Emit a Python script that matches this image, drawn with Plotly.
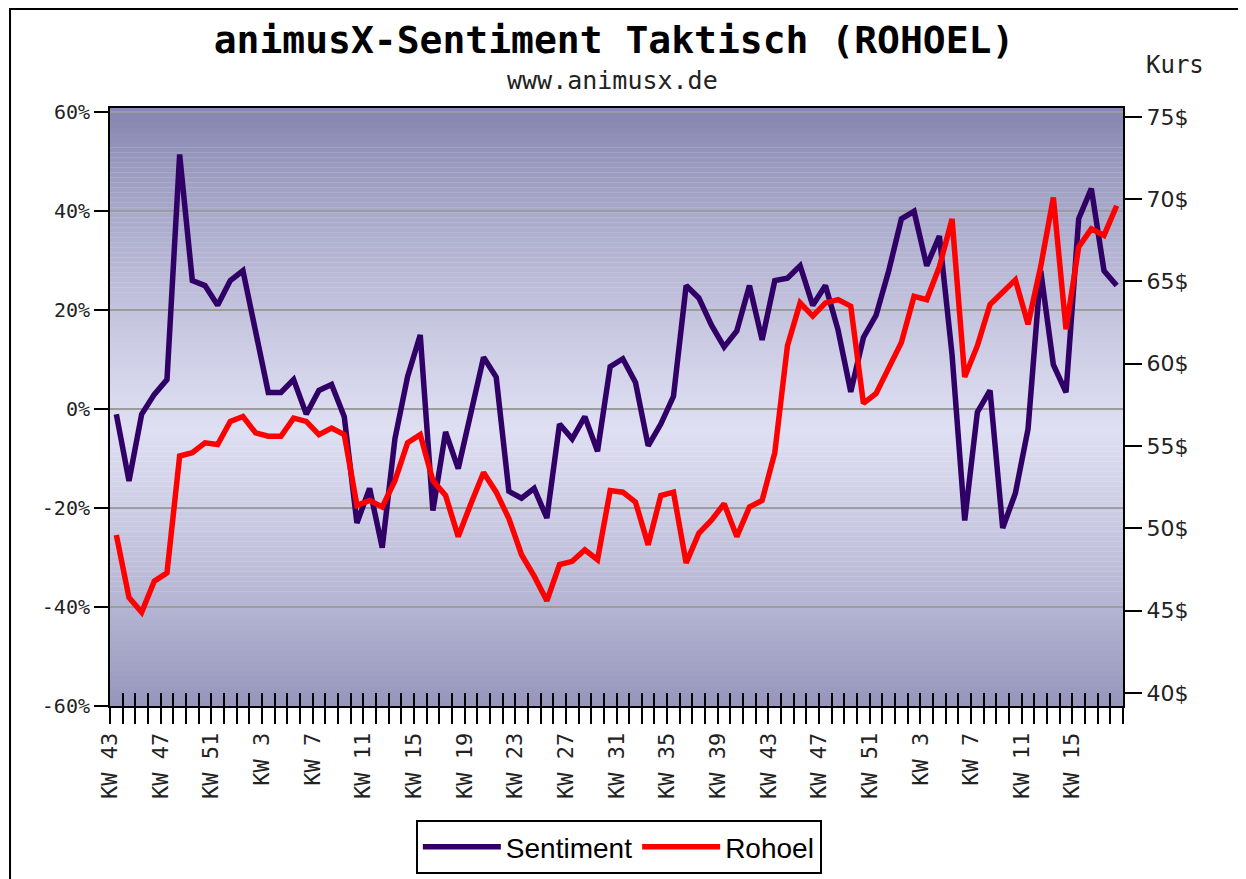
import numpy as np
import plotly.graph_objects as go

# ---------------- data ----------------
kw = list(range(43, 53)) + list(range(1, 53)) + list(range(1, 19))  # 80 weeks

tick_labels = ["KW 43", "KW 47", "KW 51", "KW 3", "KW 7", "KW 11", "KW 15", "KW 19",
               "KW 23", "KW 27", "KW 31", "KW 35", "KW 39", "KW 43", "KW 47", "KW 51",
               "KW 3", "KW 7", "KW 11", "KW 15"]

sentiment = [-1, -14.5, -1, 3, 6, 51.5, 26, 25, 21, 26,
             28, 15, 3.4, 3.4, 6, -1, 3.8, 5, -1.5, -23,
             -16, -28, -6, 6.6, 15, -20.5, -4.6, -12, -1, 10.5,
             6.5, -16.6, -18, -16, -22, -3, -6, -1.5, -8.5, 8.6,
             10.2, 5.4, -7.4, -3, 2.6, 25, 22.5, 17, 12.6, 15.8,
             25, 14, 26, 26.5, 29, 21, 25, 16, 3.5, 14.5,
             19, 28, 38.5, 40, 29, 35, 11, -22.5, -0.6, 3.8,
             -24, -17, -4, 28, 9, 3.4, 38.5, 44.6, 28, 25]

rohoel = [49.6, 45.8, 44.9, 46.8, 47.3, 54.4, 54.6, 55.2, 55.1, 56.5,
          56.8, 55.8, 55.6, 55.6, 56.7, 56.5, 55.7, 56.1, 55.7, 51.4,
          51.7, 51.3, 52.9, 55.2, 55.7, 52.9, 52.0, 49.5, 51.5, 53.4,
          52.2, 50.6, 48.4, 47.1, 45.6, 47.8, 48.0, 48.7, 48.1, 52.3,
          52.2, 51.6, 49.0, 52.0, 52.2, 47.9, 49.7, 50.5, 51.5, 49.5,
          51.3, 51.7, 54.6, 61.1, 63.7, 62.9, 63.7, 63.9, 63.5, 57.6,
          58.2, 59.7, 61.3, 64.1, 63.9, 65.9, 68.8, 59.2, 61.1, 63.6,
          64.3, 65.1, 62.4, 65.9, 70.1, 62.1, 67.1, 68.2, 67.8, 69.6]

pct_ticks = [-60, -40, -20, 0, 20, 40, 60]
pct_labels = ["-60%", "-40%", "-20%", "0%", "20%", "40%", "60%"]
kurs_ticks = [40, 45, 50, 55, 60, 65, 70, 75]
kurs_labels = ["40$", "45$", "50$", "55$", "60$", "65$", "70$", "75$"]

# ---------------- layout geometry ----------------
W, H = 1246, 879
OFF = 8  # page body margin in the browser
PL, PR, PT, PB = 110, 1123.3, 108, 706  # target plot box in page pixels
L = PL - OFF
T = PT - OFF
R = W - (PR - OFF)
B = H - (PB - OFF)
n = len(kw)
xpos = np.arange(n) + 0.5
all_ticks = list(range(n + 1))
tick_text = []
for k in all_ticks:
    tick_text.append(tick_labels[k // 4] if (k % 4 == 0 and k // 4 < len(tick_labels)) else "")

pw = PR - PL
ph = PB - PT


def px2paper_x(px):
    return (px - PL) / pw


def px2paper_y(py):
    return (PB - py) / ph


YL = [-60, 60.9]
YR = [39.21, 75.54]

fig = go.Figure()

fig.add_trace(go.Scatter(
    x=xpos, y=sentiment, name="Sentiment", mode="lines",
    line=dict(color="#300066", width=5.5),
    customdata=kw, hovertemplate="KW %{customdata}: %{y}%<extra></extra>",
    xaxis="x", yaxis="y"))

fig.add_trace(go.Scatter(
    x=xpos, y=rohoel, name="Rohoel", mode="lines",
    line=dict(color="#FF0000", width=5.5),
    customdata=kw, hovertemplate="KW %{customdata}: %{y}$<extra></extra>",
    xaxis="x2", yaxis="y2"))

# gradient background (bands below the grid)
shapes = []
nb = 120
edges = np.linspace(YL[0], YL[1], nb + 1)
dark = np.array([136, 136, 178])
light = np.array([224, 224, 243])
for i in range(nb):
    mid = 0.5 * (edges[i] + edges[i + 1])
    d = abs(mid - (-4)) / 62.0
    f = max(0.0, 1 - d) ** 0.8
    c = dark + (light - dark) * f
    shapes.append(dict(type="rect", xref="paper", yref="y", x0=0, x1=1,
                       y0=edges[i], y1=edges[i + 1] + 0.05, layer="below",
                       line=dict(width=0),
                       fillcolor="rgb(%d,%d,%d)" % tuple(c.astype(int))))

# outer frame of the whole chart
shapes.append(dict(type="rect", xref="paper", yref="paper",
                   x0=px2paper_x(10), x1=px2paper_x(1400),
                   y0=px2paper_y(1000), y1=px2paper_y(9),
                   line=dict(color="black", width=2), layer="above"))

mono = "DejaVu Sans Mono"

fig.update_layout(
    width=W, height=H,
    margin=dict(l=L, r=R, t=T, b=B, pad=0, autoexpand=False),
    paper_bgcolor="white",
    plot_bgcolor="rgba(0,0,0,0)",
    shapes=shapes,
    title=dict(text="animusX-Sentiment Taktisch (ROHOEL)",
               font=dict(family=mono, size=38, color="black", weight="bold"),
               x=(614 - OFF) / W, xanchor="center", y=1 - (40 - OFF) / H, yanchor="middle"),
    xaxis=dict(range=[0, n], tickmode="array", tickvals=all_ticks, ticktext=tick_text,
               ticks="outside", ticklen=16, tickwidth=2, tickcolor="black",
               tickangle=-90, ticklabelstandoff=0,
               tickfont=dict(family=mono, size=22, color="#222"),
               showgrid=False, zeroline=False,
               showline=True, linecolor="black", linewidth=2, mirror=True),
    xaxis2=dict(range=[0, n], overlaying="x", anchor="y", side="bottom",
                tickmode="array", tickvals=all_ticks, ticks="inside", ticklen=13,
                tickwidth=2, tickcolor="black", showticklabels=False,
                showgrid=False, zeroline=False, showline=False),
    yaxis=dict(range=YL, tickmode="array", tickvals=pct_ticks, ticktext=pct_labels,
               ticks="outside", ticklen=14, tickwidth=2, tickcolor="black",
               tickfont=dict(family=mono, size=20, color="#222"),
               showgrid=True, gridcolor="#9c9c9c", gridwidth=2,
               zeroline=False, showline=True, linecolor="black", linewidth=2),
    yaxis2=dict(range=YR, overlaying="y", anchor="x2", side="right",
                tickmode="array", tickvals=kurs_ticks, ticktext=kurs_labels,
                ticks="outside", ticklen=17, tickwidth=2, tickcolor="black",
                tickfont=dict(family="DejaVu Sans", size=22, color="#222"),
                showgrid=False, zeroline=False,
                showline=True, linecolor="black", linewidth=2),
    yaxis3=dict(range=YR, overlaying="y", anchor="x", side="right",
                tickmode="array", tickvals=kurs_ticks, ticks="inside", ticklen=13,
                tickwidth=2, tickcolor="black", showticklabels=False,
                showgrid=False, zeroline=False, showline=False),
    legend=dict(orientation="h", x=px2paper_x(619), xanchor="center",
                y=px2paper_y(874), yanchor="bottom",
                bgcolor="white", bordercolor="black", borderwidth=2,
                font=dict(family="Liberation Sans", size=28, color="black"),
                itemwidth=78, traceorder="normal"),
    showlegend=True,
    annotations=[
        dict(text="www.animusx.de", xref="paper", yref="paper",
             x=px2paper_x(613), y=px2paper_y(80), xanchor="center", yanchor="middle",
             showarrow=False, font=dict(family=mono, size=25, color="#222")),
        dict(text="Kurs", xref="paper", yref="paper",
             x=px2paper_x(1175), y=px2paper_y(65), xanchor="center", yanchor="middle",
             showarrow=False, font=dict(family=mono, size=24, color="#222")),
    ],
)

fig.write_html("out.html")
